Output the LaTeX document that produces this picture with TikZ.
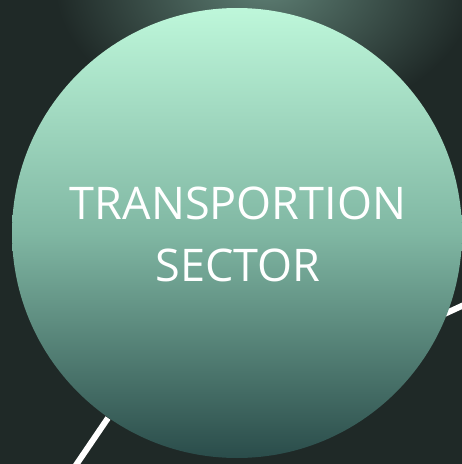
\documentclass[tikz,border=0pt]{standalone}
\usepackage{fontspec}
\setmainfont{Open Sans}
\definecolor{bg}{HTML}{1F2927}
\definecolor{glow}{HTML}{5E7F74}
\definecolor{ctop}{HTML}{BEF7DA}
\definecolor{cmid}{HTML}{80B7A3}
\definecolor{cbot}{HTML}{2A4C4A}
\tikzset{
  wline/.style={draw=white, line width=6pt},
  label/.style={text=white, font=\fontsize{45}{62}\selectfont, align=center}
}
\begin{document}
\begin{tikzpicture}[x=1pt,y=-1pt]
\useasboundingbox (0,0) rectangle (462,464);
\fill[bg] (0,0) rectangle (462,464);
\begin{scope}
\clip (0,0) rectangle (462,464);
\shade[inner color=glow, outer color=bg] (265,-15) ellipse (210 and 140);
\end{scope}
\coordinate (l1a) at (108,418);
\coordinate (l1b) at (74,468);
\coordinate (l2a) at (440,316);
\coordinate (l2b) at (466,304);
\draw[wline] (l1a) -- (l1b);
\draw[wline] (l2a) -- (l2b);
\shade[top color=ctop, bottom color=cbot, middle color=cmid] (237,233) circle (225);
\node[label] (t) at (238,234) {TRANSPORTION\\SECTOR};
\end{tikzpicture}
\end{document}
